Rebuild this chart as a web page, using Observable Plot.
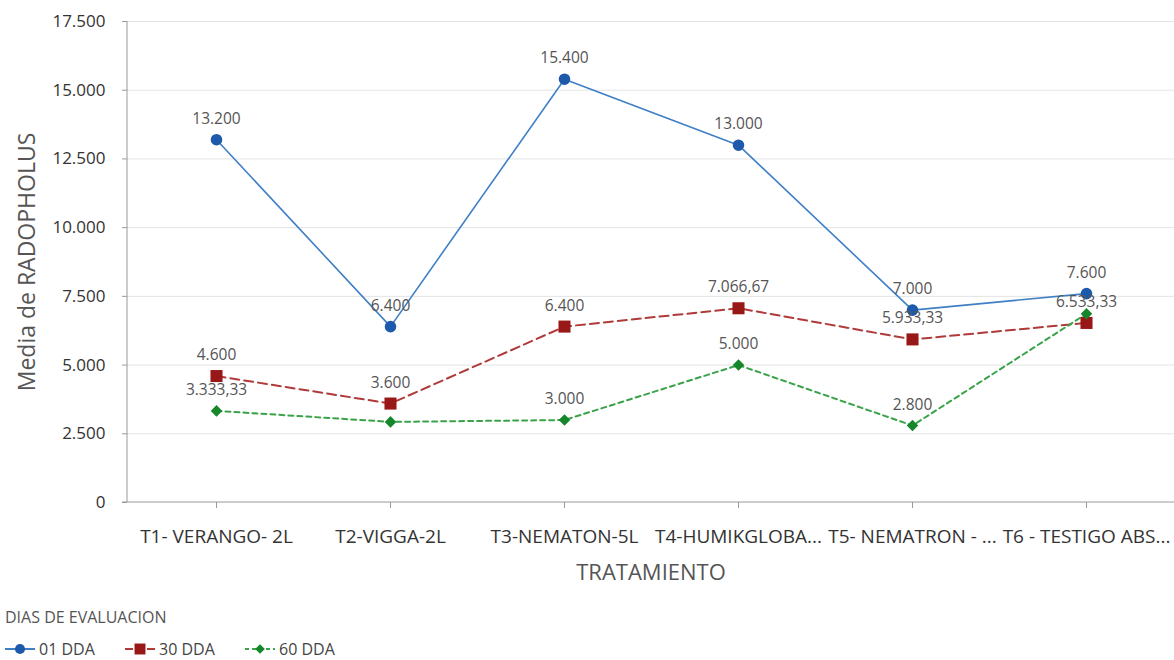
<!DOCTYPE html>
<html>
<head>
<meta charset="utf-8">
<script src="https://cdn.jsdelivr.net/npm/d3@7"></script>
<script src="https://cdn.jsdelivr.net/npm/@observablehq/plot@0.6"></script>
<style>
  html, body { margin: 0; padding: 0; background: #fff; }
  body { width: 1174px; height: 660px; overflow: hidden; font-family: "Open Sans", "Noto Sans", sans-serif; }
  #legend { position: relative; height: 65px; }
  #legend .title { position: absolute; left: 5px; top: 11px; font-size: 16px; color: #555; }
  #legend .item { position: absolute; top: 43px; display: flex; align-items: center; font-size: 16px; color: #444; }
  #legend .item svg { margin-right: 4px; }
</style>
</head>
<body>
<div id="chart"></div>
<div id="legend"></div>
<script>
const categories = ["T1- VERANGO- 2L", "T2-VIGGA-2L", "T3-NEMATON-5L", "T4-HUMIKGLOBA...", "T5- NEMATRON - ...", "T6 - TESTIGO ABS..."];
const seriesNames = ["01 DDA", "30 DDA", "60 DDA"];
const dda01 = [13200, 6400, 15400, 13000, 7000, 7600];
const dda30 = [4600, 3600, 6400, 7066.67, 5933.33, 6533.33];
const dda60 = [3333.33, 2933.33, 3000, 5000, 2800, 6866.67];
const labelShown60 = [true, false, true, true, true, false];
const yTicks = [0, 2500, 5000, 7500, 10000, 12500, 15000, 17500];
const yTickLabels = ["0", "2.500", "5.000", "7.500", "10.000", "12.500", "15.000", "17.500"];

const locale = d3.formatLocale({decimal: ",", thousands: ".", grouping: [3], currency: ["", ""]});
const fmt0 = locale.format(",.0f"), fmt2 = locale.format(",.2f");
const fmt = v => Number.isInteger(v) ? fmt0(v) : fmt2(v);

const styles = [
  {stroke: "#3f7fc6", fill: "#1d5aab", dash: null, width: 1.6, symbol: "circle", r: 5.8},
  {stroke: "#b03a3a", fill: "#981717", dash: "9,5", width: 2, symbol: "square", r: 6.8},
  {stroke: "#3aa34a", fill: "#15872a", dash: "5,4", width: 2, symbol: "diamond2", r: 5.2}
];
const valuesList = [dda01, dda30, dda60];
const showList = [categories.map(() => true), categories.map(() => true), labelShown60];

const series = valuesList.map((vals, s) => categories.map((c, i) => ({cat: c, value: vals[i], show: showList[s][i], series: seriesNames[s]})));

const yAxisLine = (index, scales, values, dims) => d3.create("svg:line")
    .attr("x1", dims.marginLeft).attr("x2", dims.marginLeft)
    .attr("y1", scales.y(17500)).attr("y2", scales.y(0))
    .attr("stroke", "#9a9a9a").attr("stroke-width", 1).node();
const xAxisLine = (index, scales, values, dims) => d3.create("svg:line")
    .attr("x1", dims.marginLeft - 5).attr("x2", dims.width)
    .attr("y1", scales.y(0)).attr("y2", scales.y(0))
    .attr("stroke", "#9a9a9a").attr("stroke-width", 1).node();

const marks = [
  Plot.gridY(yTicks.slice(1), {stroke: "#e3e3e3", strokeOpacity: 1, strokeWidth: 1}),
  Plot.axisY(yTicks, {tickFormat: d => yTickLabels[yTicks.indexOf(d)], tickSize: 5, tickPadding: 17, fontSize: 17, color: "#9a9a9a", fill: "#333", label: null}),
  Plot.axisX({tickSize: 6, tickPadding: 21, fontSize: 19, stroke: "#9a9a9a", fill: "#333", label: null}),
  yAxisLine,
  xAxisLine,
  Plot.text(["Media de RADOPHOLUS"], {frameAnchor: "left", textAnchor: "middle", rotate: -90, dx: -100, fontSize: 23, fill: "#555"}),
  Plot.text(["TRATAMIENTO"], {frameAnchor: "bottom", dy: 77, fontSize: 22, fill: "#555"})
];
series.forEach((d, s) => {
  const st = styles[s];
  marks.push(Plot.line(d, {x: "cat", y: "value", stroke: st.stroke, strokeWidth: st.width, strokeDasharray: st.dash}));
});
series.forEach((d, s) => {
  const st = styles[s];
  marks.push(Plot.dot(d, {x: "cat", y: "value", symbol: () => st.symbol, fill: st.fill, stroke: "none", r: st.r}));
});
series.forEach((d, s) => {
  marks.push(Plot.text(d.filter(p => p.show), {x: "cat", y: "value", text: p => fmt(p.value), dy: -21, fontSize: 15.5, fill: "#555"}));
});

const chart = Plot.plot({
  width: 1174,
  height: 595,
  marginTop: 21,
  marginLeft: 127,
  marginRight: 0,
  marginBottom: 93,
  style: {fontFamily: "'Open Sans', 'Noto Sans', sans-serif", background: "#fff", overflow: "visible"},
  x: {type: "point", domain: categories, padding: 0.5, axis: null},
  y: {domain: [0, 17500], axis: null},
  symbol: {type: "identity"},
  marks
});
document.getElementById("chart").appendChild(chart);

// Legend
const legend = d3.select("#legend");
legend.append("div").attr("class", "title").text("DIAS DE EVALUACION");
const lefts = [5, 125, 245];
seriesNames.forEach((name, s) => {
  const st = styles[s];
  const item = legend.append("div").attr("class", "item").style("left", lefts[s] + "px");
  const svg = item.append("svg").attr("width", 30).attr("height", 14);
  svg.append("line").attr("x1", 0).attr("x2", 30).attr("y1", 7).attr("y2", 7)
    .attr("stroke", st.stroke).attr("stroke-width", 2).attr("stroke-dasharray", st.dash ? (s === 1 ? "8,3" : "4,3") : null);
  svg.append("path").attr("transform", "translate(15,7)")
    .attr("d", d3.symbol(s === 0 ? d3.symbolCircle : s === 1 ? d3.symbolSquare : d3.symbolDiamond2, s === 1 ? 120 : s === 0 ? 80 : 60)())
    .attr("fill", st.fill);
  item.append("span").text(name);
});
</script>
</body>
</html>
